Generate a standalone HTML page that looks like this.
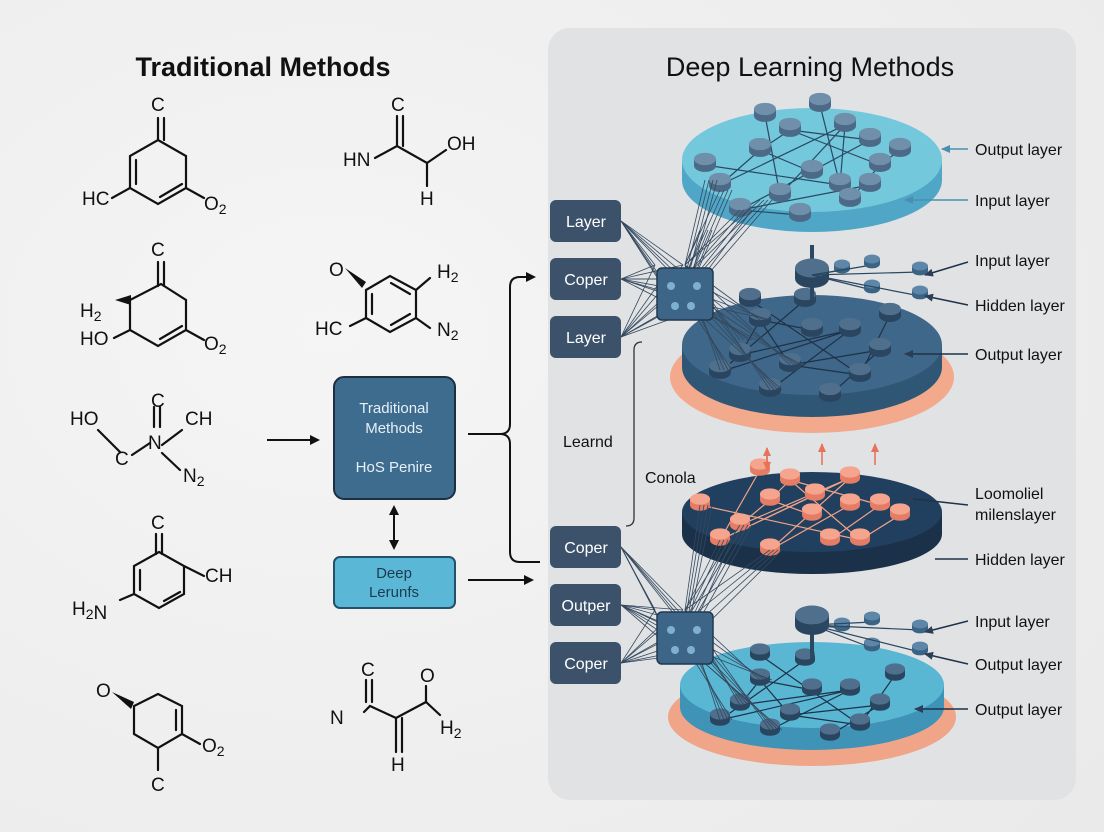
<!DOCTYPE html>
<html><head><meta charset="utf-8"><style>
html,body{margin:0;padding:0;background:#efefef;}
svg{display:block;font-family:"Liberation Sans",sans-serif;}
</style></head><body>
<svg id="s" width="1104" height="832" viewBox="0 0 1104 832" xmlns="http://www.w3.org/2000/svg">
<defs>
<radialGradient id="bg" cx="0.3" cy="0.4" r="0.9"><stop offset="0" stop-color="#f5f5f5"/><stop offset="1" stop-color="#eaeaea"/></radialGradient>
<marker id="ah" markerWidth="10" markerHeight="10" refX="8" refY="5" orient="auto" markerUnits="userSpaceOnUse"><path d="M0,0 L10,5 L0,10 z" fill="#111"/></marker>
<marker id="ab" markerWidth="10" markerHeight="10" refX="8" refY="5" orient="auto" markerUnits="userSpaceOnUse"><path d="M0,1 L9,5 L0,9 z" fill="#2a3f55"/></marker>
<marker id="ac" markerWidth="10" markerHeight="10" refX="8" refY="5" orient="auto" markerUnits="userSpaceOnUse"><path d="M0,1 L9,5 L0,9 z" fill="#4a8fb0"/></marker>
<marker id="ao" markerWidth="10" markerHeight="10" refX="8" refY="5" orient="auto" markerUnits="userSpaceOnUse"><path d="M0,1 L9,5 L0,9 z" fill="#e8735a"/></marker>
</defs>
<rect width="1104" height="832" fill="url(#bg)"/>
<rect x="548" y="28" width="528" height="772" rx="22" fill="#e1e2e4"/>
<text x="263" y="76" font-size="27" font-weight="bold" text-anchor="middle" fill="#111">Traditional Methods</text>
<text x="810" y="76" font-size="27" text-anchor="middle" fill="#111">Deep Learning Methods</text>

<g stroke="#111" stroke-width="2.2" fill="none" stroke-linecap="round">
<path d="M158,118 L158,140 M158,140 L186,156 L186,188 L158,204 L130,188 L130,156 Z M164,140 L164,118 M136,160 L136,184 M160,197 L182,184 M130,188 L112,198 M186,188 L204,198"/>
<path d="M375,158 L397,146 L427,163 L446,150 M397,146 L397,116 M403,146 L403,116 M427,163 L427,186"/>
<path d="M158,262 L158,286 M164,262 L164,286 M161,284 L186,300 L186,330 L158,346 L130,330 L130,300 Z M182,326 L160,339 M130,330 L114,338 M186,330 L204,340"/>
<path d="M366,290 L390,276 L416,290 L416,318 L390,332 L366,318 Z M372,294 L372,314 M391,283 L410,294 M391,325 L410,314 M416,290 L430,278 M416,318 L430,328 M366,318 L350,326"/>
<path d="M98,430 L120,452 M132,455 L150,443 M154,407 L154,427 M160,407 L160,427 M162,445 L182,430 M162,453 L180,470"/>
<path d="M156,534 L156,554 M162,534 L162,554 M159,552 L184,566 L184,594 L159,608 L134,594 L134,566 Z M140,570 L140,590 M164,601 L180,592 M184,566 L204,576 M134,594 L120,600"/>
<path d="M158,694 L182,706 L182,734 L158,748 L134,734 L134,706 Z M176,710 L176,730 M158,748 L158,770 M182,734 L200,744"/>
<path d="M364,712 L370,706 L396,718 L426,702 L440,715 M366,680 L366,702 M372,680 L372,702 M396,718 L396,752 M402,718 L402,752 M426,702 L426,686"/>
</g>
<path d="M115,300 L131,295 L131,305 Z" fill="#111"/>
<path d="M345,268 L366,282 L362,288 Z" fill="#111"/>
<path d="M112,692 L134,702 L131,709 Z" fill="#111"/>
<g font-size="19" fill="#111">
<text x="151" y="111">C</text><text x="82" y="205">HC</text><text x="204" y="210">O<tspan font-size="14" dy="4">2</tspan></text>
<text x="391" y="111">C</text><text x="343" y="166">HN</text><text x="447" y="150">OH</text><text x="420" y="205">H</text>
<text x="151" y="256">C</text><text x="80" y="317">H<tspan font-size="14" dy="4">2</tspan></text><text x="80" y="345">HO</text><text x="204" y="350">O<tspan font-size="14" dy="4">2</tspan></text>
<text x="329" y="276">O</text><text x="437" y="278">H<tspan font-size="14" dy="4">2</tspan></text><text x="315" y="335">HC</text><text x="437" y="336">N<tspan font-size="14" dy="4">2</tspan></text>
<text x="70" y="425">HO</text><text x="151" y="407">C</text><text x="185" y="425">CH</text><text x="148" y="449">N</text><text x="115" y="465">C</text><text x="183" y="482">N<tspan font-size="14" dy="4">2</tspan></text>
<text x="151" y="529">C</text><text x="205" y="582">CH</text><text x="72" y="615">H<tspan font-size="14" dy="4">2</tspan>N</text>
<text x="96" y="697">O</text><text x="202" y="752">O<tspan font-size="14" dy="4">2</tspan></text><text x="151" y="791">C</text>
<text x="361" y="676">C</text><text x="330" y="724">N</text><text x="420" y="682">O</text><text x="440" y="734">H<tspan font-size="14" dy="4">2</tspan></text><text x="391" y="771">H</text>
</g>

<line x1="267" y1="440" x2="318" y2="440" stroke="#111" stroke-width="2" marker-end="url(#ah)"/>
<rect x="334" y="377" width="121" height="122" rx="10" fill="#3e6c8f" stroke="#1d2f40" stroke-width="2"/>
<text x="394" y="413" font-size="15" fill="#e6f0f6" text-anchor="middle">Traditional</text>
<text x="394" y="433" font-size="15" fill="#e6f0f6" text-anchor="middle">Methods</text>
<text x="394" y="472" font-size="15" fill="#e6f0f6" text-anchor="middle">HoS Penire</text>
<line x1="394" y1="507" x2="394" y2="548" stroke="#111" stroke-width="2" marker-end="url(#ah)"/>
<line x1="394" y1="548" x2="394" y2="507" stroke="#111" stroke-width="2" marker-end="url(#ah)"/>
<rect x="334" y="557" width="121" height="51" rx="6" fill="#5ab8d6" stroke="#24506a" stroke-width="2"/>
<text x="394" y="578" font-size="15" fill="#1d3b50" text-anchor="middle">Deep</text>
<text x="394" y="597" font-size="15" fill="#1d3b50" text-anchor="middle">Lerunfs</text>
<line x1="468" y1="580" x2="532" y2="580" stroke="#111" stroke-width="2" marker-end="url(#ah)"/>
<path d="M468,434 L500,434 Q510,434 510,424 L510,287 Q510,277 520,277 L534,277" stroke="#111" stroke-width="2" fill="none" marker-end="url(#ah)"/>
<path d="M500,434 Q510,434 510,444 L510,552 Q510,562 520,562 L540,562" stroke="#111" stroke-width="2" fill="none"/>

<g id="net"></g>

<g font-size="16" fill="#fff" text-anchor="middle">
<rect x="550" y="200" width="71" height="42" rx="6" fill="#3c526b"/><text x="586" y="227">Layer</text>
<rect x="550" y="258" width="71" height="42" rx="6" fill="#3c526b"/><text x="586" y="285">Coper</text>
<rect x="550" y="316" width="71" height="42" rx="6" fill="#3c526b"/><text x="586" y="343">Layer</text>
<rect x="550" y="526" width="71" height="42" rx="6" fill="#3c526b"/><text x="586" y="553">Coper</text>
<rect x="550" y="584" width="71" height="42" rx="6" fill="#3c526b"/><text x="586" y="611">Outper</text>
<rect x="550" y="642" width="71" height="42" rx="6" fill="#3c526b"/><text x="586" y="669">Coper</text>
</g>
<path d="M642,342 Q634,342 634,350 L634,518 Q634,526 626,526" stroke="#333" stroke-width="1.3" fill="none"/>
<text x="563" y="447" font-size="16" fill="#111">Learnd</text>
<text x="645" y="483" font-size="16" fill="#111">Conola</text>

<g font-size="16" fill="#111">
<text x="975" y="155">Output layer</text>
<text x="975" y="206">Input layer</text>
<text x="975" y="266">Input layer</text>
<text x="975" y="311">Hidden layer</text>
<text x="975" y="360">Output layer</text>
<text x="975" y="499">Loomoliel</text>
<text x="975" y="520">milenslayer</text>
<text x="975" y="565">Hidden layer</text>
<text x="975" y="627">Input layer</text>
<text x="975" y="670">Output layer</text>
<text x="975" y="715">Output layer</text>
</g>
<g stroke-width="1.6">
<line x1="968" y1="149" x2="942" y2="149" stroke="#4a8fb0" marker-end="url(#ac)"/>
<line x1="968" y1="200" x2="905" y2="200" stroke="#4a8fb0" marker-end="url(#ac)"/>
<line x1="968" y1="262" x2="925" y2="275" stroke="#1f3348" marker-end="url(#ab)"/>
<line x1="968" y1="305" x2="925" y2="296" stroke="#1f3348" marker-end="url(#ab)"/>
<line x1="968" y1="354" x2="905" y2="354" stroke="#1f3348" marker-end="url(#ab)"/>
<line x1="968" y1="505" x2="905" y2="498" stroke="#1f3348" marker-end="url(#ab)"/>
<line x1="968" y1="559" x2="935" y2="559" stroke="#1f3348"/>
<line x1="968" y1="621" x2="925" y2="632" stroke="#1f3348" marker-end="url(#ab)"/>
<line x1="968" y1="664" x2="925" y2="654" stroke="#1f3348" marker-end="url(#ab)"/>
<line x1="968" y1="709" x2="915" y2="709" stroke="#1f3348" marker-end="url(#ab)"/>
<line x1="767" y1="470" x2="767" y2="448" stroke="#e8735a" marker-end="url(#ao)"/>
<line x1="767" y1="450" x2="767" y2="470" stroke="#e8735a" marker-end="url(#ao)"/>
<line x1="822" y1="465" x2="822" y2="444" stroke="#e8735a" marker-end="url(#ao)"/>
<line x1="875" y1="465" x2="875" y2="444" stroke="#e8735a" marker-end="url(#ao)"/>
</g>
</svg>
<script>
(function(){
var NS="http://www.w3.org/2000/svg",g=document.getElementById("net");
function el(t,a){var e=document.createElementNS(NS,t);for(var k in a)e.setAttribute(k,a[k]);g.appendChild(e);return e;}
function disk(cx,cy,rx,ry,h,top,side,base){
 if(base){el("ellipse",{cx:cx,cy:cy+h+10,rx:rx+12,ry:ry+6,fill:base});}
 el("path",{d:"M"+(cx-rx)+","+cy+" L"+(cx-rx)+","+(cy+h)+" A"+rx+","+ry+" 0 0 0 "+(cx+rx)+","+(cy+h)+" L"+(cx+rx)+","+cy+" Z",fill:side});
 el("ellipse",{cx:cx,cy:cy,rx:rx,ry:ry,fill:top});
}
function node(x,y,w,c,dark){var h=w*0.28;
 el("rect",{x:x-w/2,y:y,width:w,height:h*1.1,fill:dark});
 el("ellipse",{cx:x,cy:y+h*1.1,rx:w/2,ry:h,fill:dark});
 el("ellipse",{cx:x,cy:y,rx:w/2,ry:h,fill:c});}
function lines(pts,stroke,w){for(var i=1;i<pts.length;i++){var a=pts[i],b=pts[Math.floor(i*0.6)];el("line",{x1:a[0],y1:a[1],x2:b[0],y2:b[1],stroke:stroke,"stroke-width":w});}}
disk(812,685,132,43,22,"#5ab7d3","#3f93b6","#f0a488");
disk(812,512,130,40,22,"#213f5e","#1a3149",null);
disk(812,345,130,50,22,"#3f6789","#2f5675","#f2a98c");
disk(812,160,130,52,20,"#73c8dc","#4fa6c6",null);
var n1=[[812,172],[760,150],[720,185],[790,130],[845,125],[870,140],[880,165],[840,185],[780,195],[740,210],[850,200],[900,150],[705,165],[820,105],[765,115],[800,215],[870,185]];
lines(n1,"#2b4862",1.2);
n1.forEach(function(p){node(p[0],p[1]-6,22,"#6f8fab","#4c6a87");});
var n2=[[812,330],[760,320],[740,355],[790,365],[850,330],[880,350],[860,375],[720,372],[770,390],[830,395],[890,315],[750,300],[805,300]];
lines(n2,"#1e3248",1.2);
n2.forEach(function(p){node(p[0],p[1]-6,22,"#4f6f8d","#2a4560");});
var n3=[[812,515],[770,500],[740,525],[790,480],[850,478],[880,505],[860,540],[720,540],[770,550],[830,540],[900,515],[700,505],[815,495],[760,470],[850,505]];
lines(n3,"#f0a488",1.2);
n3.forEach(function(p){node(p[0],p[1]-6,20,"#f5a58e","#e47c66");});
var n4=[[812,690],[760,680],[740,705],[790,715],[850,690],[880,705],[860,725],[720,720],[770,730],[830,735],[895,675],[760,655],[805,660]];
lines(n4,"#1e3248",1.2);
n4.forEach(function(p){node(p[0],p[1]-6,20,"#4f6f8d","#2a4560");});
el("line",{x1:812,y1:300,x2:812,y2:245,stroke:"#2b4862","stroke-width":4});
node(812,268,34,"#4f6f8d","#2a4560");
[[842,270],[872,265],[872,290],[920,272],[920,296]].forEach(function(p){el("line",{x1:812,y1:275,x2:p[0],y2:p[1],stroke:"#2b4862","stroke-width":1.2});node(p[0],p[1]-6,16,"#5d86a8","#3a6384");});
el("line",{x1:812,y1:660,x2:812,y2:610,stroke:"#2b4862","stroke-width":4});
node(812,615,34,"#4f6f8d","#2a4560");
[[842,628],[872,622],[872,648],[920,630],[920,652]].forEach(function(p){el("line",{x1:812,y1:625,x2:p[0],y2:p[1],stroke:"#2b4862","stroke-width":1.2});node(p[0],p[1]-6,16,"#5d86a8","#3a6384");});
function fan(bx,by,srcs,dsts){srcs.forEach(function(s){for(var i=0;i<8;i++){el("line",{x1:s[0],y1:s[1],x2:bx+i*7,y2:by+(i%4)*14,stroke:"#34495e","stroke-width":0.8});}});
 dsts.forEach(function(d){for(var i=0;i<4;i++){el("line",{x1:bx+30,y1:by+i*12,x2:d[0]+i*4,y2:d[1],stroke:"#34495e","stroke-width":0.8});}});}
fan(655,265,[[621,221],[621,279],[621,337]],[[705,180],[720,190],[740,210],[760,200],[700,230],[740,340],[720,370],[760,320],[770,390],[790,365]]);
fan(655,610,[[621,547],[621,605],[621,663]],[[700,505],[720,540],[740,525],[770,550],[740,705],[720,720],[760,680],[770,730]]);
function box(x,y){el("rect",{x:x,y:y,width:56,height:52,rx:5,fill:"#3d6588",stroke:"#22384f","stroke-width":1.5});
 [[14,18],[40,18],[18,38],[34,38]].forEach(function(c){el("circle",{cx:x+c[0],cy:y+c[1],r:4,fill:"#7fb1cf"});});}
box(657,268);box(657,612);
})();
</script>
</body></html>
